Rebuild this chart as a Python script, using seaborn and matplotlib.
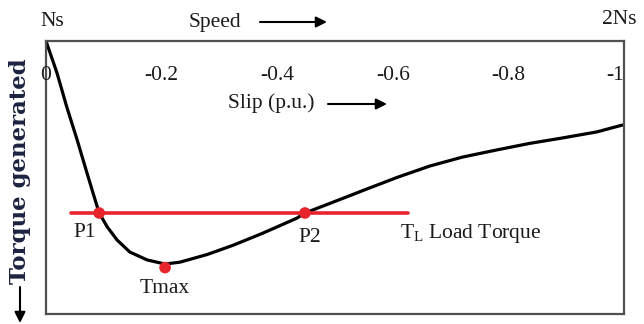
import matplotlib
matplotlib.use("Agg")
import matplotlib.pyplot as plt
import seaborn as sns

# ---- data ----
slip = [0.0, -0.019, -0.036, -0.054, -0.071, -0.085, -0.092, -0.106, -0.123,
        -0.145, -0.175, -0.206, -0.232, -0.279, -0.324, -0.375, -0.434,
        -0.448, -0.491, -0.548, -0.607, -0.664, -0.721, -0.780, -0.837,
        -0.894, -0.953, -0.997]
torque = [0.0, -0.117, -0.242, -0.363, -0.484, -0.582, -0.630, -0.681, -0.729,
          -0.773, -0.802, -0.817, -0.810, -0.782, -0.748, -0.704, -0.649,
          -0.630, -0.595, -0.548, -0.500, -0.458, -0.425, -0.399, -0.375,
          -0.355, -0.333, -0.308]
tick_values = [0, -0.2, -0.4, -0.6, -0.8, -1]
tick_labels = ["0", "-0.2", "-0.4", "-0.6", "-0.8", "-1"]
point_names = ["P1", "P2", "Tmax"]
point_slip = [-0.092, -0.448, -0.206]
point_torque = [-0.630, -0.630, -0.830]
load_torque = -0.630
load_slip = [-0.043, -0.626]

sns.set_style("white")
plt.rcParams["font.family"] = ["Liberation Serif", "DejaVu Serif"]
plt.rcParams["mathtext.fontset"] = "custom"
plt.rcParams["mathtext.rm"] = "Liberation Serif"
plt.rcParams["mathtext.it"] = "Liberation Serif"

TXT = "#1a1a1a"
FS = 15.5
W, H = 644, 324

fig = plt.figure(figsize=(6.44, 3.24), dpi=100)
ax = fig.add_axes([46 / W, 10 / H, 578 / W, 273 / H])

sns.lineplot(x=slip, y=torque, ax=ax, color="black", lw=2.3, sort=False)
sns.lineplot(x=load_slip, y=[load_torque, load_torque], ax=ax,
             color="#e8242c", lw=2.6, sort=False)
sns.scatterplot(x=point_slip, y=point_torque, ax=ax, color="#e8242c",
                s=70, edgecolor="none", zorder=5)

ax.set_xlim(0, -1)
ax.set_ylim(-1, 0)
ax.set_xticks([])
ax.set_yticks([])
for sp in ax.spines.values():
    sp.set_color("#505050")
    sp.set_linewidth(1.6)

# tick labels drawn inside the top of the box
trans = ax.get_xaxis_transform()
for i, (v, lab) in enumerate(zip(tick_values, tick_labels)):
    ha = "right" if i == len(tick_values) - 1 else "center"
    ax.text(v, 1 - 35 / 273, lab, transform=trans, ha=ha, va="center",
            fontsize=FS, color=TXT)

# point labels
ax.text(-0.0675, -0.70, point_names[0], ha="center", va="center", fontsize=FS, color=TXT)
ax.text(-0.457, -0.718, point_names[1], ha="center", va="center", fontsize=FS, color=TXT)
ax.text(-0.206, -0.905, point_names[2], ha="center", va="center", fontsize=FS, color=TXT)
ax.text(-0.612, -0.705, r"T$_{\rm L}$ Load Torque", ha="left", va="center",
        fontsize=FS, color=TXT)


def fx(px):
    return px / W


def fy(py):
    return 1 - py / H


fig.text(fx(52), fy(22), "Ns", ha="center", va="center", fontsize=FS, color=TXT)
fig.text(fx(619), fy(19), "2Ns", ha="center", va="center", fontsize=FS, color=TXT)
fig.text(fx(215), fy(22), "Speed", ha="center", va="center", fontsize=FS, color=TXT)
fig.text(fx(271), fy(103), "Slip (p.u.)", ha="center", va="center", fontsize=FS, color=TXT)
fig.text(fx(20), fy(171), "Torque generated", ha="center", va="center",
         rotation=90, fontsize=16.5, fontweight="bold", color="#1c2340",
         family=["DejaVu Serif"])

arrow = dict(arrowstyle="-|>", color="black", lw=1.5, mutation_scale=16,
             shrinkA=0, shrinkB=0)
ax.annotate("", xy=(fx(327), fy(22)), xytext=(fx(260), fy(22)),
            xycoords="figure fraction", arrowprops=arrow, annotation_clip=False)
ax.annotate("", xy=(fx(387), fy(104)), xytext=(fx(328), fy(104)),
            xycoords="figure fraction", arrowprops=arrow, annotation_clip=False)
ax.annotate("", xy=(fx(20), fy(323)), xytext=(fx(20), fy(287)),
            xycoords="figure fraction", arrowprops=arrow, annotation_clip=False)

fig.savefig("out.png", dpi=100)
